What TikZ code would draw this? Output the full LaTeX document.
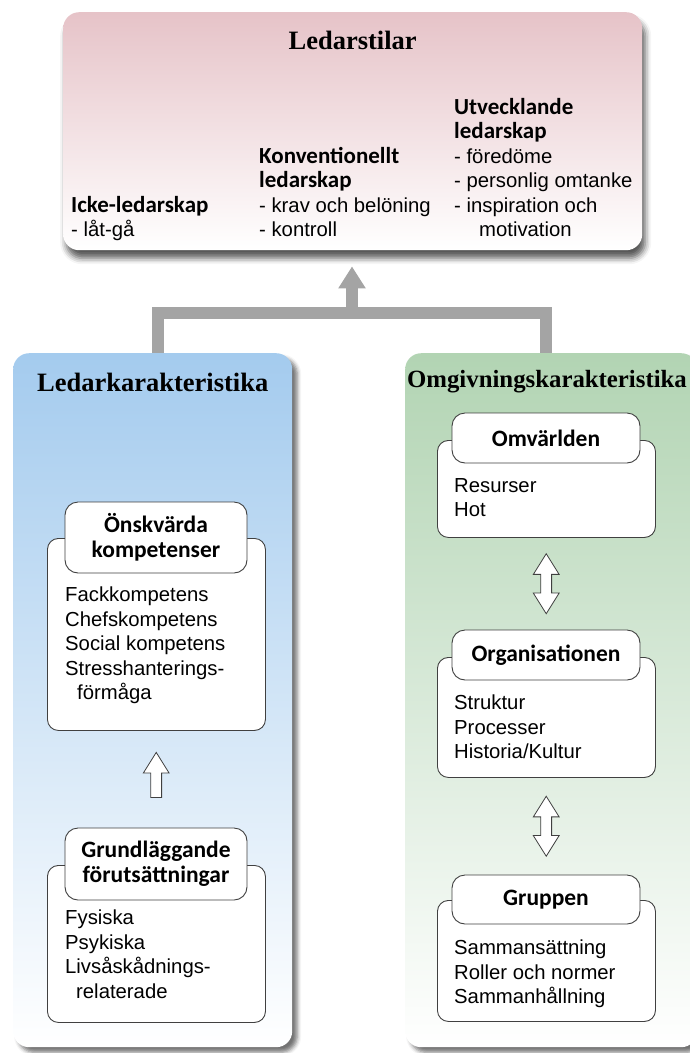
\documentclass[tikz,border=0pt]{standalone}
\usepackage{fontspec}
\setmainfont{Liberation Sans}
\newfontfamily\titlefont{Liberation Serif}
\newfontfamily\headfont{Carlito}
\usetikzlibrary{positioning,calc,arrows.meta,shapes.arrows,shadows.blur,backgrounds}

\definecolor{pinkTop}{HTML}{E6C3C8}
\definecolor{blueTop}{HTML}{A4CBEE}
\definecolor{greenTop}{HTML}{B2D4B3}
\definecolor{connGrey}{HTML}{A4A4A4}

\newcommand{\ledhead}[1]{{\headfont\bfseries\fontsize{23}{24.5}\selectfont #1}}

\tikzset{
  topbox/.style={rounded corners=16pt, anchor=north west, inner sep=0pt,
    top color=pinkTop, bottom color=white,
    blur shadow={shadow xshift=3pt, shadow yshift=-8pt, shadow blur radius=6pt, shadow opacity=65}},
  bigbox/.style={rounded corners=16pt, anchor=north west, inner sep=0pt,
    blur shadow={shadow xshift=5pt, shadow yshift=-5pt, shadow blur radius=4pt, shadow opacity=55}},
  bodybox/.style={draw=black!75, line width=0.9pt, fill=white, rounded corners=11pt,
    anchor=north west, inner sep=0pt},
  tabbox/.style={draw=black!75, line width=0.9pt, fill=white, rounded corners=13pt,
    align=center, inner sep=0pt, font=\headfont\bfseries\fontsize{23.5}{25}\selectfont},
  titletext/.style={font=\titlefont\bfseries\fontsize{26.5}{28}\selectfont, inner sep=0pt},
  itemtext/.style={align=left, anchor=north west, inner sep=0pt,
    font=\fontsize{20.3}{24.5}\selectfont},
  connline/.style={connGrey, line width=12pt},
  hollowup/.style={single arrow, draw=black!75, line width=0.8pt, fill=white, rotate=90,
    inner sep=5pt, single arrow head extend=7.5pt, single arrow tip angle=64,
    minimum height=45pt},
  hollowboth/.style={double arrow, draw=black!75, line width=0.8pt, fill=white, rotate=90,
    inner sep=5pt, double arrow head extend=7.5pt, double arrow tip angle=64,
    minimum height=60pt}
}

\begin{document}
\begin{tikzpicture}[x=1pt,y=1pt]
\useasboundingbox (0,0) rectangle (690,-1053);

\node[topbox, minimum width=579pt, minimum height=238pt] (ls) at (63,-12) {};
\node[titletext] (lsTitle) at ([yshift=-28pt]ls.north) {Ledarstilar};
\node[itemtext] (lsCol1) at (71,-196) {\ledhead{Icke-ledarskap}\\- låt-gå};
\node[itemtext] (lsCol2) at (259,-147) {\ledhead{Konventionellt}\\\ledhead{ledarskap}\\- krav och belöning\\- kontroll};
\node[itemtext] (lsCol3) at (454,-98) {\ledhead{Utvecklande}\\\ledhead{ledarskap}\\- föredöme\\- personlig omtanke\\- inspiration och\\\hspace*{25pt}motivation};

\node[bigbox, top color=blueTop, bottom color=white, minimum width=279pt, minimum height=694pt] (lk) at (13,-353) {};
\node[titletext] (lkTitle) at ([yshift=-29pt]lk.north) {Ledarkarakteristika};

\node[bigbox, top color=greenTop, bottom color=white, minimum width=292pt, minimum height=694pt] (og) at (405,-353) {};
\node[titletext, font=\titlefont\bfseries\fontsize{24.8}{28}\selectfont] (ogTitle) at (547,-382) {Omgivningskarakteristika};

\begin{scope}[on background layer]
\coordinate (barL) at (158,-313);
\coordinate (barR) at (546,-313);
\coordinate (barM) at (352,-313);
\draw[connline, line join=miter] (barL |- lk.north) -- (barL) -- (barR) -- (barR |- og.north);
\draw[connline, -{Triangle[width=26pt,length=22pt]}] (barM) -- ([yshift=-16pt]ls.south -| barM);
\end{scope}

\node[bodybox, minimum width=218pt, minimum height=192pt] (onskBody) at (47,-538) {};
\node[tabbox, minimum width=182pt, minimum height=71pt] (onskTab) at (156,-537.5) {Önskvärda\\kompetenser};
\node[itemtext] (onskText) at (65,-587) {Fackkompetens\\Chefskompetens\\Social kompetens\\Stresshanterings-\\\hspace*{12pt}förmåga};

\node[bodybox, minimum width=218pt, minimum height=157pt] (grundBody) at (47,-865) {};
\node[tabbox, minimum width=182pt, minimum height=72pt] (grundTab) at (156,-864) {Grundläggande\\förutsättningar};
\node[itemtext] (grundText) at (65,-910) {Fysiska\\Psykiska\\Livsåskådnings-\\\hspace*{11pt}relaterade};

\node[hollowup] (upArrow) at ($(onskBody.south)!0.5!(grundTab.north)$) {};

\node[bodybox, minimum width=218pt, minimum height=97pt] (omvBody) at (437,-440) {};
\node[tabbox, minimum width=188pt, minimum height=50pt] (omvTab) at (546,-438) {Omvärlden};
\node[itemtext] (omvText) at (454,-478) {Resurser\\Hot};

\node[bodybox, minimum width=218pt, minimum height=120pt] (orgBody) at (437,-657) {};
\node[tabbox, minimum width=188pt, minimum height=50pt] (orgTab) at (546,-655) {Organisationen};
\node[itemtext] (orgText) at (454,-695) {Struktur\\Processer\\Historia/Kultur};

\node[bodybox, minimum width=218pt, minimum height=121pt] (grpBody) at (437,-900) {};
\node[tabbox, minimum width=188pt, minimum height=49pt] (grpTab) at (546,-899.5) {Gruppen};
\node[itemtext] (grpText) at (454,-940) {Sammansättning\\Roller och normer\\Sammanhållning};

\node[hollowboth] (omvOrgArrow) at ($(omvBody.south)!0.5!(orgTab.north)$) {};
\node[hollowboth] (orgGrpArrow) at ($(orgBody.south)!0.5!(grpTab.north)$) {};
\end{tikzpicture}
\end{document}
